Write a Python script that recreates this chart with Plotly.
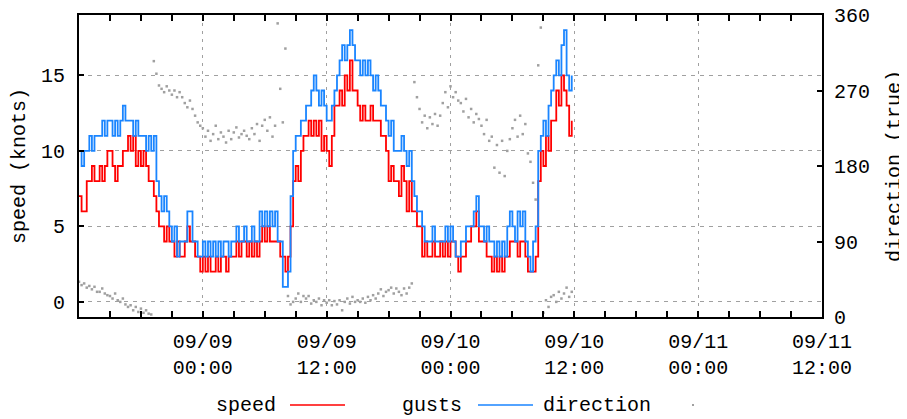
import pandas as pd
import plotly.graph_objects as go

# 15-minute samples starting 09/08 12:00 (4 values per hour)
gusts = [
    10, 9, 10, 10,  11, 10, 11, 11,  11, 12, 11, 12,  12, 11, 12, 11,
    12, 13, 12, 12,  12, 11, 12, 11,  11, 11, 10, 11,  10, 11, 8, 7,
    6, 7, 6, 5,  4, 5, 3, 4,  4, 4, 6, 6,  4, 4, 3, 3,
    4, 3, 4, 3,  4, 3, 4, 3,  4, 4, 3, 4,  4, 5, 4, 4,
    5, 4, 4, 5,  4, 4, 6, 5,  6, 5, 6, 5,  6, 4, 4, 1,
    1, 2, 7, 10,  11, 11, 12, 12,  13, 13, 14, 15,  14, 13, 14, 13,
    12, 12, 13, 14,  15, 16, 17, 16,  17, 18, 17, 16,  16, 15, 16, 15,
    16, 15, 14, 15,  14, 13, 13, 12,  11, 12, 10, 10,  10, 11, 10, 9,
    10, 8, 7, 6,  6, 5, 4, 4,  4, 5, 4, 4,  4, 4, 5, 4,
    5, 4, 3, 3,  4, 4, 5, 5,  5, 6, 7, 5,  5, 4, 5, 4,
    4, 3, 4, 3,  4, 3, 5, 6,  5, 4, 6, 5,  6, 4, 3, 2,
    4, 5, 10, 11,  12, 11, 13, 14,  15, 16, 15, 17,  18, 15, 14, 15,
]
speed = [
    7, 6, 6, 8,  8, 9, 8, 8,  9, 8, 9, 10,  10, 9, 8, 9,
    9, 10, 10, 11,  10, 11, 9, 10,  9, 10, 9, 8,  8, 7, 6, 5,
    5, 4, 5, 4,  4, 3, 4, 3,  3, 4, 5, 4,  4, 3, 3, 2,
    3, 2, 3, 2,  2, 3, 2, 3,  3, 2, 3, 3,  3, 4, 3, 4,
    4, 3, 4, 3,  4, 3, 4, 5,  4, 5, 4, 4,  4, 4, 3, 3,
    2, 3, 5, 8,  9, 8, 10, 11,  11, 12, 11, 12,  11, 12, 10, 11,
    10, 9, 11, 13,  13, 14, 13, 15,  14, 16, 14, 14,  13, 12, 13, 12,
    12, 13, 12, 12,  12, 11, 11, 10,  8, 9, 8, 8,  7, 9, 8, 6,
    8, 6, 6, 5,  5, 3, 4, 3,  3, 4, 3, 3,  4, 3, 4, 3,
    4, 4, 3, 2,  3, 3, 4, 4,  5, 5, 6, 4,  4, 4, 3, 3,
    2, 3, 2, 3,  2, 3, 3, 4,  4, 4, 3, 4,  4, 3, 2, 2,
    2, 3, 8, 10,  9, 11, 10, 12,  12, 14, 13, 15,  14, 13, 11, 12,
]
direction = [
    42, 38, 40, 35,  37, 33, 36, 30,  30, 34, 28, 26,  25, 22, 28, 20,
    18, 22, 15, 12,  14, 8, 12, 6,  10, 5, 8, 4,  3, 305, 290, 276,
    272, 268, 275, 270,  265, 270, 262, 268,  262, 255, 250, 258,  248, 240, 232, 228,
    225, 215, 222, 210,  218, 228, 212, 220,  215, 208, 222, 212,  220, 226, 214, 218,
    222, 216, 212, 225,  218, 230, 210, 228,  235, 222, 238, 215,  228, 350, 272, 232,
    320, 25, 15, 18,  22, 28, 18, 25,  22, 25, 16, 20,  18, 22, 14, 20,
    17, 20, 14, 19,  15, 20, 8, 18,  22, 16, 24, 18,  20, 18, 22, 17,
    24, 20, 26, 22,  28, 33, 25, 30,  32, 35, 28, 34,  30, 26, 34, 28,
    35, 40, 280, 262,  248, 232, 240, 225,  238, 230, 242, 228,  240, 255, 268, 250,
    275, 262, 268, 258,  255, 245, 260, 238,  248, 232, 242, 236,  228, 218, 235, 210,
    215, 178, 205, 172,  210, 168, 198, 212,  225, 235, 215, 240,  218, 230, 195, 185,
    160, 140, 300, 345,  5, 20, 12, 24,  26, 18, 30, 22,  28, 35, 24, 30,
]
times = pd.date_range("2023-09-08 12:00", periods=len(speed), freq="15min")

tick_vals = ["2023-09-09 00:00", "2023-09-09 12:00", "2023-09-10 00:00",
             "2023-09-10 12:00", "2023-09-11 00:00", "2023-09-11 12:00"]
tick_text = ["09/09<br>00:00", "09/09<br>12:00", "09/10<br>00:00",
             "09/10<br>12:00", "09/11<br>00:00", "09/11<br>12:00"]
speed_ticks = [0, 5, 10, 15]
dir_ticks = [0, 90, 180, 270, 360]

FONT = "Liberation Mono"
FS = 20
RED = "#ff0000"
BLUE = "#1a85ff"
GRAY = "#a0a0a0"

fig = go.Figure()
fig.add_trace(go.Scatter(x=times, y=speed, mode="lines", line=dict(color=RED, width=1.8, shape="hv"),
                         name="speed", showlegend=False))
fig.add_trace(go.Scatter(x=times, y=gusts, mode="lines", line=dict(color=BLUE, width=1.8, shape="hv"),
                         name="gusts", showlegend=False))
fig.add_trace(go.Scatter(x=times, y=direction, mode="markers", yaxis="y2",
                         marker=dict(color=GRAY, size=2.5, symbol="square", line=dict(width=0)),
                         name="direction", showlegend=False))

# page has an 8px body margin: plot area lands at x 79-822, y 15-317 in the window
fig.update_layout(
    width=907, height=419,
    margin=dict(l=71, r=93, t=7, b=110, autoexpand=False),
    paper_bgcolor="white", plot_bgcolor="white",
    font=dict(family=FONT, size=FS, color="#000"),
    xaxis=dict(
        type="date", range=["2023-09-08 12:00", "2023-09-11 12:00"], automargin=False,
        tickmode="array", tickvals=tick_vals, ticktext=tick_text,
        ticks="inside", ticklen=6, tickwidth=2, tickcolor="#000",
        showline=True, linecolor="#000", linewidth=2, mirror="allticks",
        showgrid=True, gridcolor=GRAY, gridwidth=1, griddash="3px,5px",
        minor=dict(dtick=3 * 3600 * 1000, tick0="2023-09-08 12:00", ticks="inside",
                   ticklen=4, tickwidth=2, tickcolor="#000", showgrid=False),
        zeroline=False, tickfont=dict(family=FONT, size=FS), ticklabelstandoff=5,
        ticklabeloverflow="allow",
    ),
    yaxis=dict(
        range=[-1, 19], tickvals=speed_ticks, ticks="inside", ticklen=5, tickwidth=2,
        tickcolor="#000", showline=True, linecolor="#000", linewidth=2, mirror=True,
        showgrid=True, gridcolor=GRAY, gridwidth=1, griddash="4px,5px", zeroline=False,
        automargin=False,
        title=dict(text="speed (knots)", standoff=10, font=dict(family=FONT, size=FS)),
        tickfont=dict(family=FONT, size=FS), ticklabelstandoff=8,
    ),
    yaxis2=dict(
        range=[0, 360], tickvals=dir_ticks, overlaying="y", side="right",
        ticks="inside", ticklen=5, tickwidth=2, tickcolor="#000", showline=True,
        linecolor="#000", linewidth=2, showgrid=False, zeroline=False, automargin=False,
        title=dict(text="direction (true)", standoff=17, font=dict(family=FONT, size=FS)),
        tickfont=dict(family=FONT, size=FS), ticklabelstandoff=6,
        ticklabeloverflow="allow",
    ),
    showlegend=False,
)

# gnuplot-style key: text then sample
ly = (317 - 405) / 302.0
def px(x):
    return (x - 79) / 743.0

fig.add_annotation(x=px(278), y=ly, xref="paper", yref="paper", text="speed", showarrow=False,
                   xanchor="right", yanchor="middle", font=dict(family=FONT, size=FS))
fig.add_shape(type="line", xref="paper", yref="paper", x0=px(290), x1=px(345), y0=ly, y1=ly,
              line=dict(color=RED, width=1.6))
fig.add_annotation(x=px(464), y=ly, xref="paper", yref="paper", text="gusts", showarrow=False,
                   xanchor="right", yanchor="middle", font=dict(family=FONT, size=FS))
fig.add_shape(type="line", xref="paper", yref="paper", x0=px(478), x1=px(533), y0=ly, y1=ly,
              line=dict(color=BLUE, width=1.6))
fig.add_annotation(x=px(653), y=ly, xref="paper", yref="paper", text="direction", showarrow=False,
                   xanchor="right", yanchor="middle", font=dict(family=FONT, size=FS))
fig.add_shape(type="rect", xref="paper", yref="paper", x0=px(692), x1=px(694),
              y0=ly - 1.0 / 302, y1=ly + 1.0 / 302, line=dict(width=0), fillcolor=GRAY)

fig.write_html("out.html")
